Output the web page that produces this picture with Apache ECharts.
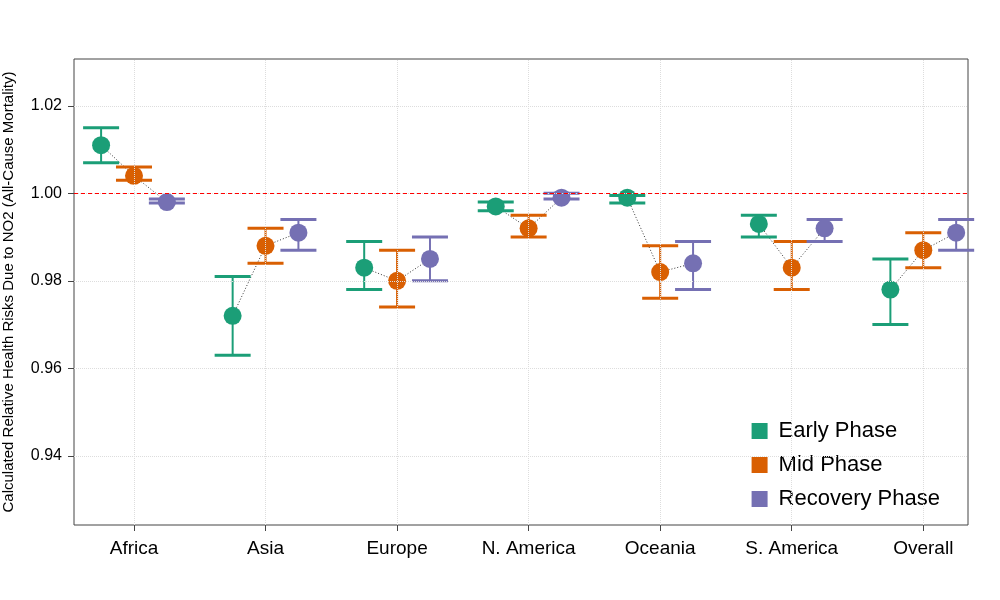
<!DOCTYPE html>
<html><head><meta charset="utf-8">
<script src="https://cdn.jsdelivr.net/npm/echarts@6/dist/echarts.min.js"></script>
<style>html,body{margin:0;background:#fff}#main{width:1000px;height:600px}</style>
</head><body><div id="main"></div>
<script>
// regions and phase estimates (relative risk with CI)
const regions = ['Africa', 'Asia', 'Europe', 'N. America', 'Oceania', 'S. America', 'Overall'];
const phases = ['Early Phase', 'Mid Phase', 'Recovery Phase'];
const colors = ['#1b9e77', '#d95f02', '#7570b3'];
const early = [1.011, 0.972, 0.983, 0.997, 0.999, 0.993, 0.978];
const earlyLo = [1.007, 0.963, 0.978, 0.996, 0.9978, 0.990, 0.970];
const earlyHi = [1.015, 0.981, 0.989, 0.998, 0.9995, 0.995, 0.985];
const mid = [1.004, 0.988, 0.980, 0.992, 0.982, 0.983, 0.987];
const midLo = [1.003, 0.984, 0.974, 0.990, 0.976, 0.978, 0.983];
const midHi = [1.006, 0.992, 0.987, 0.995, 0.988, 0.989, 0.991];
const rec = [0.998, 0.991, 0.985, 0.999, 0.984, 0.992, 0.991];
const recLo = [0.9978, 0.987, 0.980, 0.9987, 0.978, 0.989, 0.987];
const recHi = [0.9987, 0.994, 0.990, 1.000, 0.989, 0.994, 0.994];
const yTicks = [0.94, 0.96, 0.98, 1.00, 1.02];

const est = [early, mid, rec], lo = [earlyLo, midLo, recLo], hi = [earlyHi, midHi, recHi];
const offs = [-0.25, 0, 0.25];
const series = [];

// grid lines
series.push({
  type: 'line', data: [], silent: true,
  markLine: {
    symbol: 'none', silent: true, label: {show: false},
    lineStyle: {color: '#dddddd', type: 'dotted', width: 1},
    data: yTicks.map(v => ({yAxis: v})).concat(regions.map((r, i) => ({xAxis: i + 1})))
  }
});
// reference line
series.push({
  type: 'line', data: [], silent: true, color: '#ff0000',
  markLine: {symbol: 'none', silent: true, label: {show: false},
    lineStyle: {color: '#ff0000', type: [4, 3], width: 1},
    data: [{yAxis: 1.0, lineStyle: {color: '#ff0000', type: [4, 3], width: 1}}]}
});
// connecting dotted lines
regions.forEach((r, i) => {
  series.push({
    type: 'line', symbol: 'none', z: 1, silent: true,
    lineStyle: {color: '#333', type: [1, 2], width: 1},
    data: [0, 1, 2].map(p => [i + 1 + offs[p], est[p][i]])
  });
});
phases.forEach((name, p) => {
  series.push({
    type: 'custom', z: 2, silent: true,
    data: regions.map((r, i) => [i + 1 + offs[p], lo[p][i], hi[p][i]]),
    renderItem: (params, api) => {
      const a = api.coord([api.value(0), api.value(1)]);
      const b = api.coord([api.value(0), api.value(2)]);
      const w = 18;
      const st = {stroke: colors[p], lineWidth: 2};
      return {type: 'group', children: [
        {type: 'line', shape: {x1: a[0], y1: a[1], x2: b[0], y2: b[1]}, style: st},
        {type: 'line', shape: {x1: a[0] - w, y1: a[1], x2: a[0] + w, y2: a[1]}, style: {stroke: colors[p], lineWidth: 3}},
        {type: 'line', shape: {x1: b[0] - w, y1: b[1], x2: b[0] + w, y2: b[1]}, style: {stroke: colors[p], lineWidth: 3}}
      ]};
    }
  });
  series.push({
    name: name, type: 'scatter', z: 3, symbolSize: 18,
    itemStyle: {color: colors[p], opacity: 1},
    data: regions.map((r, i) => [i + 1 + offs[p], est[p][i]])
  });
});

const chart = echarts.init(document.getElementById('main'));
chart.setOption({
  animation: false,
  grid: {left: 74, right: 32, top: 59, bottom: 75, containLabel: false, outerBoundsMode: 'none',
    show: true, borderColor: '#444', borderWidth: 1},
  legend: {
    orient: 'vertical', right: 55, bottom: 85, icon: 'rect', itemWidth: 16, itemHeight: 16, itemGap: 12,
    textStyle: {fontSize: 22, color: '#000', fontFamily: 'Liberation Sans', padding: [0, 0, 0, 6]},
    data: phases
  },
  xAxis: {
    type: 'value', min: 0.544, max: 7.34,
    splitLine: {show: false},
    axisLine: {show: false},
    axisTick: {show: true, customValues: [1, 2, 3, 4, 5, 6, 7], length: 6, lineStyle: {color: '#444'}},
    axisLabel: {customValues: [1, 2, 3, 4, 5, 6, 7], formatter: v => regions[Math.round(v) - 1] || '',
      fontSize: 19, color: '#000', margin: 14, fontFamily: 'Liberation Sans'}
  },
  yAxis: {
    type: 'value', min: 0.9242, max: 1.0307,
    name: 'Calculated Relative Health Risks Due to NO2 (All-Cause Mortality)',
    nameLocation: 'middle', nameGap: 58, nameTextStyle: {fontSize: 15, color: '#000', fontFamily: 'Liberation Sans'},
    splitLine: {show: false},
    axisLine: {show: false},
    axisTick: {show: true, customValues: yTicks, length: 6, lineStyle: {color: '#444'}},
    axisLabel: {customValues: yTicks, formatter: v => v.toFixed(2), fontSize: 16, color: '#000', margin: 12, fontFamily: 'Liberation Sans'}
  },
  series: series
});
</script></body></html>
